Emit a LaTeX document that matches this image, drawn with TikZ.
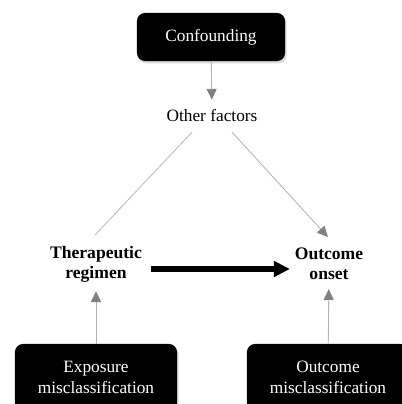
\documentclass[tikz,border=0pt]{standalone}
\usepackage{fontspec}
\setmainfont{Liberation Serif}
\usetikzlibrary{shapes,arrows.meta,positioning,calc,shadows}

\begin{document}
\begin{tikzpicture}[x=0.025cm, y=0.025cm,
    darkbox/.style={rectangle, rounded corners=0.2cm, fill=black, text=white, align=center, font=\fontsize{12.3}{14.8}\selectfont, drop shadow={opacity=0.3, shadow xshift=0.04cm, shadow yshift=-0.06cm}},
    factor/.style={align=center, font=\fontsize{12.3}{14.2}\selectfont},
    keyfactor/.style={factor, font=\fontsize{12.5}{14.2}\selectfont\bfseries},
    feed/.style={draw=black!30, line width=0.6pt, -{Triangle[length=0.27cm, width=0.25cm, color=black!50]}},
    plain/.style={draw=black!28, line width=0.6pt}
]
    \useasboundingbox (0,0) rectangle (402,404);
    \clip (0,0) rectangle (402,404);

    \node[darkbox, minimum width=3.7cm, minimum height=1.2cm] (conf) at (211,367) {Confounding};
    \node[factor] (others) at (212,289) {Other factors};

    \node[keyfactor] (regimen) at (96,140) {Therapeutic\\regimen};
    \node[keyfactor] (onset) at (329,140) {Outcome\\onset};

    \node[darkbox, minimum width=4.05cm, minimum height=1.675cm] (expo) at (96,26.5) {Exposure\\misclassification};
    \node[darkbox, minimum width=4.05cm, minimum height=1.675cm] (outmis) at (328,26.5) {Outcome\\misclassification};

    \draw[feed, shorten >=3pt] (conf) -- (others);
    \draw[plain] ($(others.south)+(-20,-6)$) -- ($(regimen.north)+(-1,6)$);
    \draw[feed] ($(others.south)+(20,-6)$) -- ($(onset.north)+(-1,6)$);
    \draw[feed, shorten >=3pt] (expo) -- (regimen);
    \draw[feed, shorten >=3pt] (outmis) -- (onset);

    \draw[line width=0.13cm, -{Triangle[length=0.4cm, width=0.38cm]}] ($(regimen.east)+(4,-5)$) -- ($(onset.west)+(0,-5)$);
\end{tikzpicture}
\end{document}
